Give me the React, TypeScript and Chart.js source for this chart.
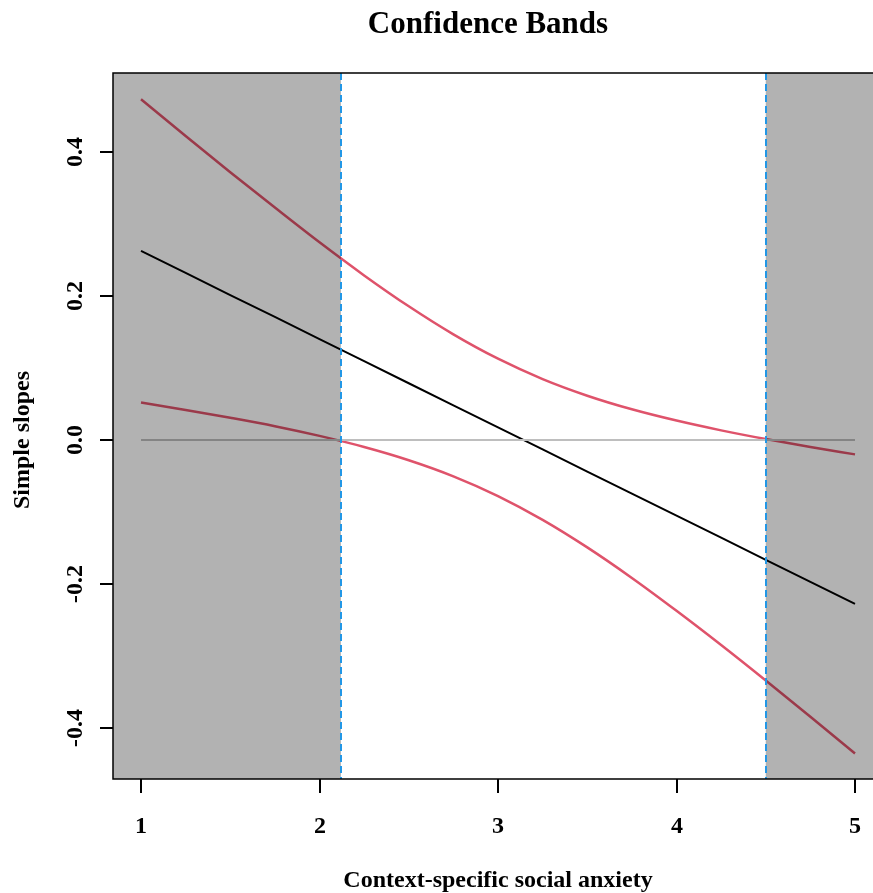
import React, { useEffect, useRef } from "react";
import { Chart, registerables } from "chart.js";

Chart.register(...registerables);

const xValues = [1, 1.25, 1.5, 1.75, 2, 2.25, 2.5, 2.75, 3, 3.25, 3.5, 3.75, 4, 4.25, 4.5, 4.75, 5];
const estimate = [0.263, 0.2323, 0.2016, 0.1712, 0.1403, 0.1096, 0.0789, 0.0482, 0.0175, -0.0132, -0.0439, -0.0746, -0.1053, -0.1359, -0.1666, -0.1973, -0.228];
const upperCI = [0.474, 0.4228, 0.3723, 0.3232, 0.2749, 0.2289, 0.1859, 0.1469, 0.113, 0.0847, 0.0616, 0.0427, 0.027, 0.0134, 0.0013, -0.0097, -0.02];
const lowerCI = [0.052, 0.0418, 0.0309, 0.0192, 0.0057, -0.0097, -0.0281, -0.0505, -0.078, -0.1111, -0.1494, -0.1919, -0.2376, -0.2852, -0.3345, -0.3849, -0.436];
const zeroX = [1, 5];
const zeroY = [0, 0];
const jnPoints = [2.12, 4.5];
const xTicks = [1, 2, 3, 4, 5];
const yTicks = [-0.4, -0.2, 0.0, 0.2, 0.4];

const title = "Confidence Bands";
const xTitle = "Context-specific social anxiety";
const yTitle = "Simple slopes";

const FONT = '"Liberation Serif", "Times New Roman", serif';

const toPts = (xs: number[], ys: number[]) => xs.map((x, i) => ({ x, y: ys[i] }));

export default function App() {
  const ref = useRef<HTMLCanvasElement | null>(null);

  useEffect(() => {
    const canvas = ref.current;
    if (!canvas) return;

    const overlayPlugin = {
      id: "rstyle",
      afterDraw(chart: any) {
        const ctx = chart.ctx as CanvasRenderingContext2D;
        const area = chart.chartArea;
        const xs = chart.scales.x;
        const ys = chart.scales.y;
        const xl = xs.getPixelForValue(jnPoints[0]);
        const xr = xs.getPixelForValue(jnPoints[1]);
        ctx.save();
        // shaded non-significant regions
        ctx.fillStyle = "rgba(0,0,0,0.3)";
        ctx.fillRect(area.left, area.top, xl - area.left, area.bottom - area.top);
        ctx.fillRect(xr, area.top, area.right - xr, area.bottom - area.top);
        // dashed J-N lines
        ctx.strokeStyle = "#2297E6";
        ctx.lineWidth = 2;
        ctx.setLineDash([7, 4]);
        for (const p of jnPoints) {
          const px = Math.round(xs.getPixelForValue(p));
          ctx.beginPath();
          ctx.moveTo(px, area.top);
          ctx.lineTo(px, area.bottom);
          ctx.stroke();
        }
        ctx.setLineDash([]);
        // box (right side cut off)
        ctx.strokeStyle = "#000";
        ctx.lineWidth = 1.5;
        ctx.beginPath();
        ctx.moveTo(area.right + 2, area.top);
        ctx.lineTo(area.left, area.top);
        ctx.lineTo(area.left, area.bottom);
        ctx.lineTo(area.right + 2, area.bottom);
        ctx.stroke();
        // ticks
        ctx.lineWidth = 2;
        ctx.fillStyle = "#000";
        ctx.font = `bold 24px ${FONT}`;
        for (const t of xTicks) {
          const px = Math.round(xs.getPixelForValue(t));
          ctx.beginPath();
          ctx.moveTo(px, area.bottom);
          ctx.lineTo(px, area.bottom + 14);
          ctx.stroke();
          ctx.textAlign = "center";
          ctx.textBaseline = "alphabetic";
          ctx.fillText(String(t), px, 833);
        }
        for (const t of yTicks) {
          const py = Math.round(ys.getPixelForValue(t));
          ctx.beginPath();
          ctx.moveTo(area.left, py);
          ctx.lineTo(area.left - 13, py);
          ctx.stroke();
          ctx.save();
          ctx.translate(82, py);
          ctx.rotate(-Math.PI / 2);
          ctx.textAlign = "center";
          ctx.textBaseline = "alphabetic";
          ctx.fillText(t.toFixed(1), 0, 0);
          ctx.restore();
        }
        // axis titles
        ctx.textAlign = "center";
        ctx.textBaseline = "alphabetic";
        ctx.fillText(xTitle, 498, 887);
        ctx.save();
        ctx.translate(29, 440);
        ctx.rotate(-Math.PI / 2);
        ctx.fillText(yTitle, 0, 0);
        ctx.restore();
        // main title
        ctx.font = `bold 31px ${FONT}`;
        ctx.fillText(title, 488, 33);
        ctx.restore();
      },
    };

    const chart = new Chart(canvas, {
      type: "scatter",
      data: {
        datasets: [
          {
            data: toPts(zeroX, zeroY),
            showLine: true,
            borderColor: "#BEBEBE",
            borderWidth: 2,
            pointRadius: 0,
            tension: 0,
          },
          {
            data: toPts(xValues, estimate),
            showLine: true,
            borderColor: "#000000",
            borderWidth: 2,
            pointRadius: 0,
            tension: 0,
          },
          {
            data: toPts(xValues, upperCI),
            showLine: true,
            borderColor: "#DF536B",
            borderWidth: 2.5,
            pointRadius: 0,
            cubicInterpolationMode: "monotone",
          },
          {
            data: toPts(xValues, lowerCI),
            showLine: true,
            borderColor: "#DF536B",
            borderWidth: 2.5,
            pointRadius: 0,
            cubicInterpolationMode: "monotone",
          },
        ],
      },
      options: {
        animation: false,
        responsive: false,
        maintainAspectRatio: false,
        devicePixelRatio: 1,
        layout: { padding: { left: 113, top: 73, right: 0, bottom: 114 } },
        plugins: {
          legend: { display: false },
          title: { display: false },
          tooltip: { enabled: false },
        },
        scales: {
          x: { type: "linear", display: false, min: 0.8431, max: 5.1008 },
          y: { type: "linear", display: false, min: -0.4715, max: 0.5104 },
        },
      } as any,
      plugins: [overlayPlugin],
    });

    return () => chart.destroy();
  }, []);

  return (
    <div style={{ position: "absolute", left: 0, top: 0, width: 873, height: 893, background: "#fff" }}>
      <canvas ref={ref} width={873} height={893} style={{ display: "block", width: 873, height: 893 }} />
    </div>
  );
}
